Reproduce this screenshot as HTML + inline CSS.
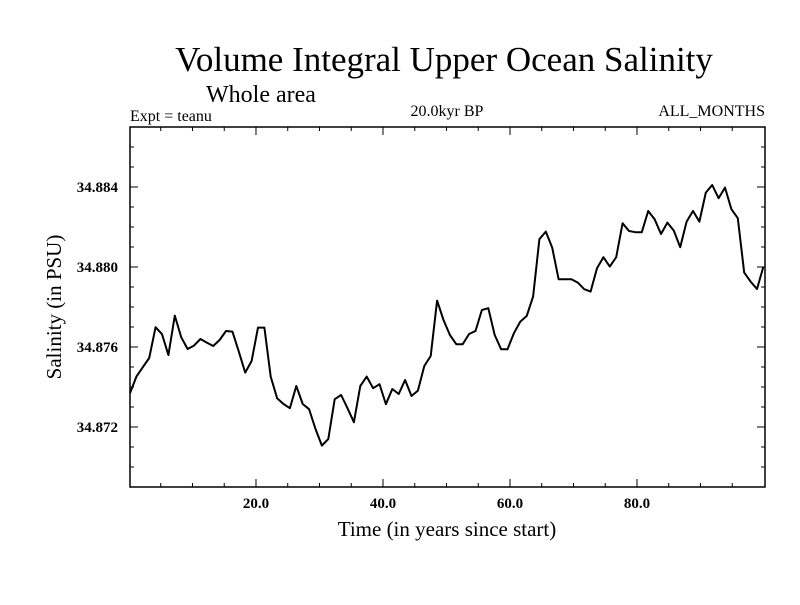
<!DOCTYPE html>
<html><head><meta charset="utf-8"><style>
body{margin:0;background:#fff;width:800px;height:600px;overflow:hidden}
svg text{font-family:"Liberation Serif",serif;fill:#000}
</style></head><body>
<svg width="800" height="600">
<text x="444" y="71" text-anchor="middle" font-size="35">Volume Integral Upper Ocean Salinity</text>
<text x="261" y="102" text-anchor="middle" font-size="24">Whole area</text>
<text x="130" y="121" font-size="16">Expt = teanu</text>
<text x="447" y="116" text-anchor="middle" font-size="16">20.0kyr BP</text>
<text x="765" y="116" text-anchor="end" font-size="16">ALL_MONTHS</text>
<g id="axes"></g>
<path id="line" fill="none" stroke="#000" stroke-width="2" stroke-linejoin="round"></path>
<text x="447" y="536" text-anchor="middle" font-size="21">Time (in years since start)</text>
<text transform="translate(61,307) rotate(-90)" text-anchor="middle" font-size="21">Salinity (in PSU)</text>
</svg>
<script>
const salinity=[34.87369,34.87452,34.87499,34.87545,34.87699,34.87664,34.87560,34.87757,34.87649,34.87590,
34.87607,34.87640,34.87622,34.87605,34.87635,34.87680,34.87677,34.87577,34.87472,34.87530,
34.87697,34.87697,34.87452,34.87344,34.87315,34.87294,34.87405,34.87315,34.87289,34.87190,
34.87107,34.87140,34.87339,34.87360,34.87294,34.87224,34.87405,34.87452,34.87394,34.87414,
34.87314,34.87390,34.87365,34.87435,34.87355,34.87382,34.87505,34.87555,
34.87832,34.87735,34.87660,34.87614,34.87614,34.87665,34.87680,34.87785,34.87794,34.87660,
34.87589,34.87589,34.87669,34.87727,34.87755,34.87852,34.88139,34.88177,34.88097,34.87939,
34.87939,34.87939,34.87922,34.87889,34.87877,34.87994,34.88049,34.88002,34.88049,34.88219,
34.88180,34.88174,34.88174,34.88280,34.88239,34.88165,34.88222,34.88182,34.88099,34.88227,
34.88280,34.88227,34.88372,34.88410,34.88344,34.88397,34.88289,34.88244,34.87972,34.87927,
34.87890,34.88002];
const years=salinity.map((_,i)=>0.16+i*1.0075);
const xTickLabels=["20.0","40.0","60.0","80.0"];
const xTickValues=[20,40,60,80];
const yTickLabels=["34.884","34.880","34.876","34.872"];
const yTickValues=[34.884,34.880,34.876,34.872];
const X0=130,X1=765,Y0=127,Y1=487,xMin=0.16,xMax=100.16,yMin=34.869,yMax=34.887;
const xs=t=>X0+(t-xMin)/(xMax-xMin)*(X1-X0);
const ys=v=>Y1-(v-yMin)/(yMax-yMin)*(Y1-Y0);
const NS="http://www.w3.org/2000/svg";
const ax=document.getElementById('axes');
function mk(tag,attrs){const e=document.createElementNS(NS,tag);for(const k in attrs)e.setAttribute(k,attrs[k]);ax.appendChild(e);return e;}
const fr=mk('rect',{x:X0,y:Y0,width:X1-X0,height:Y1-Y0,fill:'none',stroke:'#000','stroke-width':1.5});


for(let t=5;t<100;t+=5){const x=xs(t);const L=t%20===0?8:4;
const a=mk('line',{x1:x,x2:x,y1:Y1,y2:Y1-L,stroke:'#000'});


const b=mk('line',{x1:x,x2:x,y1:Y0,y2:Y0+L,stroke:'#000'});

}
for(let k=0;k<=18;k++){const v=yMin+k*0.001;const y=ys(v);const maj=Math.abs(((v-34.872)/0.004)-Math.round((v-34.872)/0.004))<1e-6;const L=maj?8:4;
const a=mk('line',{x1:X0,x2:X0+L,y1:y,y2:y,stroke:'#000'});


const b=mk('line',{x1:X1,x2:X1-L,y1:y,y2:y,stroke:'#000'});

}
xTickValues.forEach((t,i)=>{const e=mk('text',{x:xs(t),y:508,'text-anchor':'middle','font-size':15,'font-weight':'bold'});e.textContent=xTickLabels[i];

});
yTickValues.forEach((v,i)=>{const e=mk('text',{x:118,y:ys(v)+5,'text-anchor':'end','font-size':15,'font-weight':'bold'});e.textContent=yTickLabels[i];

});
document.getElementById('line').setAttribute('d',salinity.map((v,i)=>(i?'L':'M')+xs(years[i]).toFixed(1)+','+ys(v).toFixed(1)).join(''));
</script>
</body></html>
